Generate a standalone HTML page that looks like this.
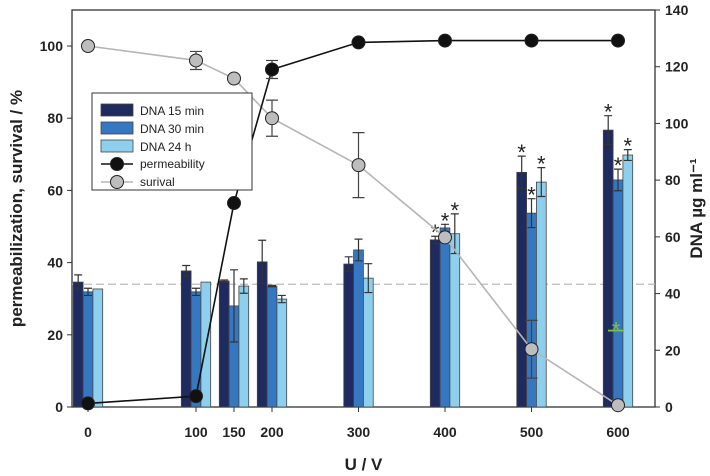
<!DOCTYPE html>
<html><head><meta charset="utf-8"><style>
body{margin:0;background:#fff;}
svg{display:block;font-family:"Liberation Sans",Arial,sans-serif;}
</style></head><body>
<svg id="chart" width="710" height="476" viewBox="0 0 710 476"></svg>
<script>
const categories=[0,100,150,200,300,400,500,600];
const dna15=[34.6,37.7,34.9,40.2,39.6,46.3,65,76.7];
const dna15Err=[2,1.5,0.3,6,2,1,4.5,4];
const dna30=[31.9,31.9,28,33.5,43.5,49.6,53.7,62.9];
const dna30Err=[1,1,10,0.2,3,1,4,3];
const dna24=[32.7,34.6,33.5,29.9,35.7,48,62.3,69.8];
const dna24Err=[0,0,2,1,4,5.5,4,1.5];
const permeability=[1,3,56.5,93.5,101,101.5,101.5,101.5];
const permErr=[0,0,0,2.5,0,0,0,0];
const survival=[100,96,91,80,67,47,16,0.5];
const survErr=[0,2.5,0,5,9,0,8,0];
const leftTicks=[0,20,40,60,80,100];
const rightTicks=[0,20,40,60,80,100,120,140];
const stars15=[0,0,0,0,0,1,1,1];
const stars30=[0,0,0,0,0,1,1,1];
const stars24=[0,0,0,0,0,1,1,1];

const NS="http://www.w3.org/2000/svg";
const svg=document.getElementById('chart');
const L=72,R=655,T=10,B=407;
const y=v=>B-v*3.61;
const yR=v=>B-v*(B-T)/140;
const xd=[0,100,200,600],xr=[88,196,272,618];
function x(v){for(let i=0;i<xd.length-1;i++){if(v<=xd[i+1]){return xr[i]+(v-xd[i])*(xr[i+1]-xr[i])/(xd[i+1]-xd[i]);}}return xr[xr.length-1];}
function el(t,a,txt){const e=document.createElementNS(NS,t);for(const k in a)e.setAttribute(k,a[k]);if(txt!==undefined)e.textContent=txt;svg.appendChild(e);return e;}

let f=el('rect',{x:L,y:T,width:R-L,height:B-T,fill:'none',stroke:'#333','stroke-width':1.3});


let d=el('line',{x1:L,x2:R,y1:y(34),y2:y(34),stroke:'#bbb','stroke-dasharray':'8,4','stroke-width':1.2});



leftTicks.forEach(t=>{
  const ln=el('line',{x1:L-5,x2:L,y1:y(t),y2:y(t),stroke:'#333'});
  
  
  const tx=el('text',{x:L-9,y:y(t)+5,'text-anchor':'end','font-size':14,'font-weight':'bold',fill:'#222'},t);
  
  
});
rightTicks.forEach(t=>{
  const ln=el('line',{x1:R,x2:R+5,y1:yR(t),y2:yR(t),stroke:'#333'});
  
  
  const tx=el('text',{x:R+10,y:yR(t)+5,'font-size':14,'font-weight':'bold',fill:'#222'},t);
  
  
});
categories.forEach(c=>{
  const ln=el('line',{x1:x(c),x2:x(c),y1:B,y2:B+5,stroke:'#333'});
  
  
  const tx=el('text',{x:x(c),y:B+30,'text-anchor':'middle','font-size':14,'font-weight':'bold',fill:'#222'},c);
  
  
});

const bw=9.8;
const series=[[dna15,dna15Err,'#1f2a5e',-1,stars15],[dna30,dna30Err,'#3577c0',0,stars30],[dna24,dna24Err,'#8ecfee',1,stars24]];
series.forEach(([vals,errs,col,off,stars],si)=>{
  vals.forEach((v,i)=>{
    const cx=x(categories[i])+off*bw;
    const r=el('rect',{x:cx-bw/2,y:y(v),width:bw,height:B-y(v),fill:col,stroke:'#444','stroke-width':0.8});
    
    
    if(errs[i]>0){
      const e=el('path',{d:`M${cx},${y(v-errs[i])}V${y(v+errs[i])}M${cx-4},${y(v+errs[i])}H${cx+4}M${cx-4},${y(v-errs[i])}H${cx+4}`,stroke:'#333',fill:'none','stroke-width':1.2});
      
      
    }
    if(stars[i]){
      const s=el('text',{x:cx,y:y(v+errs[i])+4,'text-anchor':'middle','font-size':22,fill:'#222'},'*');
      
      
    }
  });
});
let gs=el('text',{x:x(600)-2,y:y(22)+10,'text-anchor':'middle','font-size':22,fill:'#7dc242'},'*');


let gl=el('line',{x1:x(600)-10,x2:x(600)+6,y1:y(22)+3,y2:y(22)+3,stroke:'#7dc242','stroke-width':1.8});



function lineSeries(vals,errs,col,fillc,name){
  const p=el('polyline',{points:vals.map((v,i)=>x(categories[i])+','+y(v)).join(' '),fill:'none',stroke:col,'stroke-width':1.6});
  
  
  vals.forEach((v,i)=>{
    const cx=x(categories[i]);
    if(errs[i]>0){
      const e=el('path',{d:`M${cx},${y(v-errs[i])}V${y(v+errs[i])}M${cx-6},${y(v+errs[i])}H${cx+6}M${cx-6},${y(v-errs[i])}H${cx+6}`,stroke:'#444',fill:'none','stroke-width':1.2});
      
      
    }
    const c=el('circle',{cx:cx,cy:y(v),r:6.5,fill:fillc,stroke:'#222','stroke-width':1});
    
    
  });
}
lineSeries(survival,survErr,'#b5b5b5','#bdbdbd','survival');
lineSeries(permeability,permErr,'#111','#111','permeability');

const lg=el('rect',{x:92,y:93,width:160,height:97,fill:'#fff',stroke:'#333','stroke-width':1});


[['DNA 15 min','#1f2a5e'],['DNA 30 min','#3577c0'],['DNA 24 h','#8ecfee']].forEach(([t,c],i)=>{
  const r=el('rect',{x:101,y:104+i*18,width:32,height:12,fill:c,stroke:'#444','stroke-width':0.8});
  
  
  const tx=el('text',{x:140,y:115+i*18,'font-size':12,fill:'#222'},t);
  
  
});
[['permeability','#111','#111'],['surival','#b5b5b5','#bdbdbd']].forEach(([t,c,fc],i)=>{
  const yy=164+i*18;
  const ln=el('line',{x1:101,x2:133,y1:yy,y2:yy,stroke:c,'stroke-width':1.6});
  
  
  const ci=el('circle',{cx:117,cy:yy,r:6.5,fill:fc,stroke:'#222'});
  
  
  const tx=el('text',{x:140,y:yy+4,'font-size':12,fill:'#222'},t);
  
  
});

let xt=el('text',{x:(L+R)/2,y:470,'text-anchor':'middle','font-size':17,'font-weight':'bold',fill:'#222'},'U / V');


let yt=el('text',{x:0,y:0,'text-anchor':'middle','font-size':17,'font-weight':'bold',fill:'#222',transform:`translate(22,${(T+B)/2}) rotate(-90)`},'permeabilization, survival / %');


let yt2=el('text',{x:0,y:0,'text-anchor':'middle','font-size':17,'font-weight':'bold',fill:'#222',transform:`translate(702,${(T+B)/2}) rotate(-90)`},'DNA µg ml⁻¹');


</script>
</body></html>
